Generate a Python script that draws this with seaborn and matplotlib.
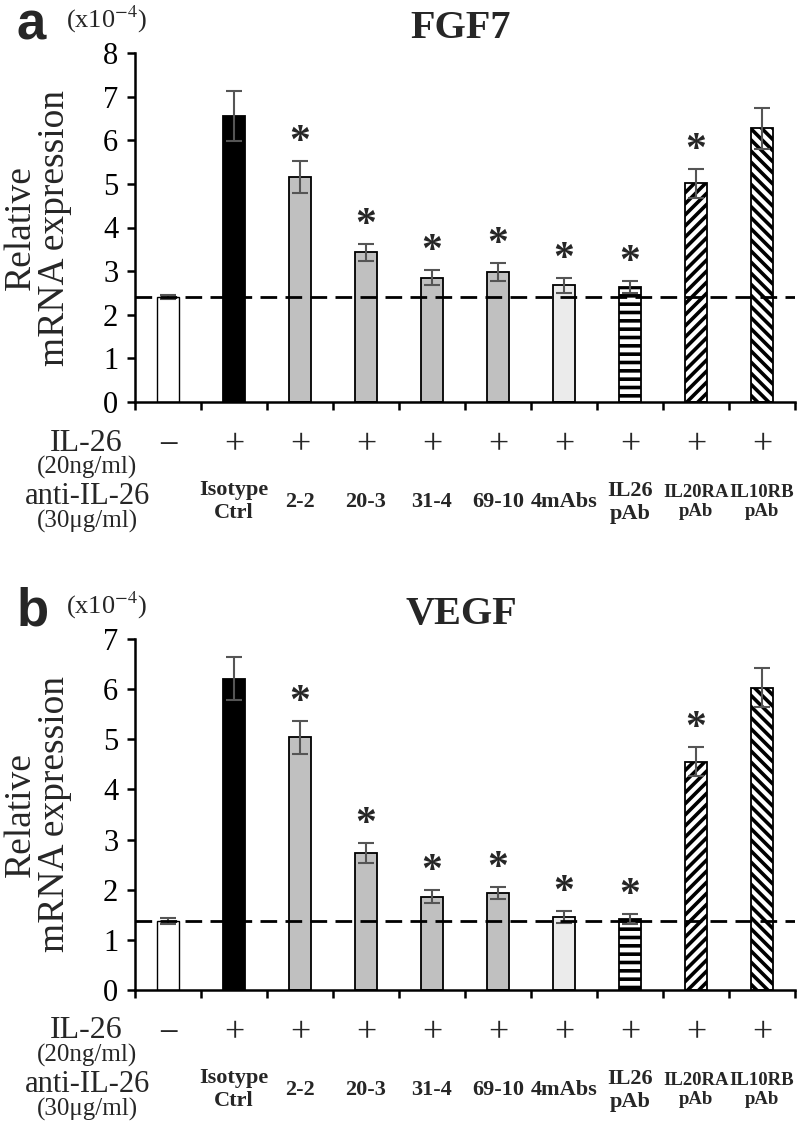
"""
IL-26 neutralisation bar charts (FGF7 / VEGF relative mRNA expression)
"""

import numpy as np
import pandas as pd
import matplotlib
matplotlib.use("Agg")
import matplotlib.pyplot as plt
import seaborn as sns

# ---- data (units x10^-4) ----
conditions = ["ctrl", "Isotype\nCtrl", "2-2", "20-3", "31-4", "69-10",
              "4mAbs", "IL26\npAb", "IL20RA\npAb", "IL10RB\npAb"]
il26_signs = ["\u2212", "+", "+", "+", "+", "+", "+", "+", "+", "+"]

fgf7_mean = [2.40, 6.56, 5.16, 3.43, 2.85, 2.98, 2.68, 2.64, 5.01, 6.28]
fgf7_err = [0.05, 0.58, 0.37, 0.20, 0.17, 0.21, 0.17, 0.14, 0.33, 0.47]

vegf_mean = [1.38, 6.21, 5.04, 2.73, 1.86, 1.93, 1.45, 1.42, 4.55, 6.03]
vegf_err = [0.06, 0.43, 0.33, 0.20, 0.13, 0.12, 0.12, 0.10, 0.29, 0.39]

significant = [False, False, True, True, True, True, True, True, True, False]

bar_colors = ["white", "black", "#c0c0c0", "#c0c0c0", "#c0c0c0", "#c0c0c0",
              "#ebebeb", "white", "white", "white"]
bar_hatches = [None, None, None, None, None, None, None, "--", "///", "\\\\\\"]

W, H = 800, 1123
SERIF = "Liberation Serif"

sns.set_theme(style="white")
plt.rcParams["font.family"] = [SERIF, "DejaVu Serif"]
plt.rcParams["mathtext.fontset"] = "stix"
plt.rcParams["hatch.linewidth"] = 2.6
plt.rcParams["hatch.color"] = "black"


def fx(px):
    return px / W


def fy(py):
    return 1 - py / H


def draw_panel(fig, rect, means, errs, ymax, title, letter):
    left, top, right, bottom = rect
    ax = fig.add_axes([fx(left), fy(bottom), fx(right - left), (bottom - top) / H])

    df = pd.DataFrame({"cond": conditions, "value": means})
    sns.barplot(data=df, x="cond", y="value", hue="cond", order=conditions,
                palette=dict(zip(conditions, bar_colors)), legend=False,
                width=0.32, edgecolor="black", linewidth=1.3,
                errorbar=None, ax=ax)
    for patch, hatch in zip(ax.patches, bar_hatches):
        if hatch:
            patch.set_hatch(hatch)
    ax.patches[0].set_linewidth(1.0)

    xs = np.arange(len(conditions))
    ax.errorbar(xs, means, yerr=errs, fmt="none", ecolor="#555555",
                elinewidth=1.5, capsize=5.5, capthick=1.5, zorder=5)

    # dashed baseline at the unstimulated level
    ax.axhline(means[0], color="black", lw=2, ls=(0, (6, 3)), zorder=6)

    for i, sig in enumerate(significant):
        if sig:
            ax.annotate("*", xy=(i, means[i] + errs[i]), xytext=(0, 8),
                        textcoords="offset pixels", ha="center", va="baseline",
                        fontsize=30, fontweight="bold")

    ax.set_xlim(-0.5, len(conditions) - 0.5)
    ax.set_ylim(0, ymax)
    ax.set_xticks(np.arange(-0.5, len(conditions), 1))
    ax.set_xticklabels([])
    ax.set_yticks(range(0, ymax + 1))
    ax.set_xlabel("")
    ax.set_ylabel("")
    ax.tick_params(axis="both", direction="out", length=6, width=1.8,
                   colors="black", bottom=True, left=True)
    ax.tick_params(axis="y", labelsize=22, pad=6)
    for s in ["top", "right"]:
        ax.spines[s].set_visible(False)
    for s in ["left", "bottom"]:
        ax.spines[s].set_linewidth(1.8)
        ax.spines[s].set_color("black")

    # treatment rows under the axis
    for i in xs:
        ax.annotate(il26_signs[i], xy=(i, 0), xycoords=("data", "axes fraction"),
                    xytext=(0, -44), textcoords="offset pixels",
                    ha="center", va="center", fontsize=26)
        if i > 0:
            # the two receptor pAb names are long, keep them inside their slot
            first = conditions[i].split("\n")[0]
            size = 13.5 if (len(first) > 5 and conditions[i].endswith("pAb")) else 16
            ax.annotate(conditions[i], xy=(i, 0), xycoords=("data", "axes fraction"),
                        xytext=(0, -100), textcoords="offset pixels",
                        ha="center", va="center", fontsize=size,
                        fontweight="bold", linespacing=1.2)

    fig.text(fx(86), fy(bottom + 41), "IL-26", ha="center", va="center", fontsize=23)
    fig.text(fx(87), fy(bottom + 65), "(20ng/ml)", ha="center", va="center", fontsize=18)
    fig.text(fx(87), fy(bottom + 95), "anti-IL-26", ha="center", va="center", fontsize=22)
    fig.text(fx(87), fy(bottom + 119), "(30\u03bcg/ml)", ha="center", va="center", fontsize=18)

    # y label, scale note, title and panel letter
    fig.text(fx(38), fy((top + bottom) / 2), "Relative\nmRNA expression",
             rotation=90, ha="center", va="center", fontsize=27,
             linespacing=1.0, multialignment="center")
    fig.text(fx(107), fy(top - 34), r"(x10$^{-4}$)", ha="center", va="center",
             fontsize=19)
    fig.text(fx(461), fy(top - 15), title, ha="center", va="baseline",
             fontsize=29, fontweight="bold")
    fig.text(fx(17), fy(top - 13), letter, ha="left", va="baseline",
             fontsize=38, fontweight="bold", family="Liberation Sans")
    return ax


def main():
    fig = plt.figure(figsize=(W / 100, H / 100), dpi=100)
    fig.patch.set_facecolor("white")
    draw_panel(fig, (135, 53, 795, 402), fgf7_mean, fgf7_err, 8, "FGF7", "a")
    draw_panel(fig, (135, 639, 795, 990), vegf_mean, vegf_err, 7, "VEGF", "b")
    fig.savefig("out.png", dpi=100, facecolor="white")


if __name__ == "__main__":
    main()
